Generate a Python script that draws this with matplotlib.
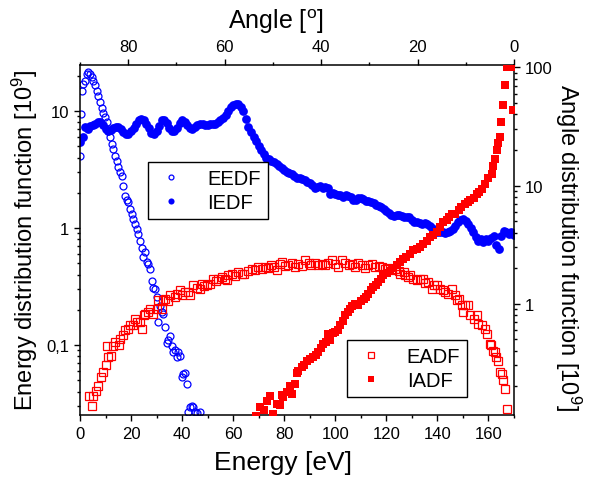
import numpy as np
import matplotlib.pyplot as plt
from matplotlib.ticker import FixedLocator, MultipleLocator, LogLocator, NullFormatter

plt.rcParams['font.family'] = ['Liberation Sans', 'DejaVu Sans']
plt.rcParams['mathtext.default'] = 'regular'

# energy distributions (left axis, bottom axis in eV)
eedf_energy = [0.0, 0.4, 0.65, 1.3, 2.0, 2.6, 3.3, 3.9, 4.6, 5.2, 5.9, 6.5, 7.2, 7.8, 8.5,
               9.1, 9.8, 10.5, 11.1, 11.7, 12.4, 13.0, 13.7, 14.4, 15.0, 15.7, 16.3, 17.0,
               17.6, 18.3, 18.9, 19.6, 20.2, 20.9, 21.5, 22.2, 22.9, 23.5, 24.2, 24.8, 25.5,
               26.1, 26.8, 27.4, 28.1, 28.7, 29.4, 30.0, 30.7, 31.3, 32.0, 32.6, 33.3, 33.9,
               34.6, 35.2, 35.9, 36.5, 37.2, 37.9, 38.5, 39.2, 39.8, 40.5, 41.1, 41.8, 42.4,
               43.1, 43.7, 44.4, 45.0, 45.7, 47.0]
eedf = [4.15, 9.4, 14.9, 17.0, 18.2, 20.7, 21.5, 20.7, 19.5, 18.2, 16.5, 14.9, 13.5, 11.9, 10.7,
        9.7, 8.8, 8.0, 6.8, 5.95, 5.2, 4.7, 4.15, 3.76, 3.3, 2.99, 2.8, 2.3,
        1.89, 1.75, 1.66, 1.45, 1.32, 1.19, 1.08, 0.98, 0.89, 0.78, 0.68, 0.56, 0.62,
        0.51, 0.49, 0.45, 0.355, 0.31, 0.30, 0.256, 0.156, 0.217, 0.19, 0.184, 0.142, 0.105,
        0.11, 0.12, 0.099, 0.087, 0.09, 0.0785, 0.087, 0.081, 0.053, 0.057, 0.058, 0.046, 0.0266,
        0.0297, 0.030, 0.0294, 0.027, 0.026, 0.0266]

iedf_energy = list(range(0, 171))
iedf = [5.4, 6.0, 7.3, 7.0, 7.5, 7.6, 7.8, 8.0, 8.1, 7.6,
        7.0, 6.8, 6.9, 7.1, 7.3, 7.3, 7.0, 6.6, 6.4, 6.4,
        6.7, 7.2, 7.8, 8.3, 8.5, 8.3, 7.8, 7.1, 6.5, 6.4,
        6.8, 7.5, 8.3, 8.4, 7.9, 7.2, 6.7, 6.7, 7.2, 7.9,
        8.3, 8.1, 7.6, 7.1, 7.0, 7.3, 7.6, 7.7, 7.7, 7.6,
        7.6, 7.7, 7.7, 7.8, 8.0, 8.3, 8.7, 9.3, 10.0, 10.8,
        11.3, 11.5, 11.4, 10.9, 10.0, 8.6, 7.3, 6.6, 6.0, 5.5,
        5.0, 4.6, 4.25, 4.0, 3.85, 3.75, 3.65, 3.55, 3.4, 3.25,
        3.1, 3.0, 2.95, 2.9, 2.8, 2.7, 2.65, 2.6, 2.55, 2.45,
        2.4, 2.35, 2.2, 2.25, 2.3, 2.2, 2.25, 2.2, 1.95, 2.0,
        1.95, 1.9, 1.9, 1.85, 1.9, 1.88, 1.85, 1.72, 1.75, 1.8,
        1.82, 1.78, 1.7, 1.7, 1.66, 1.62, 1.58, 1.55, 1.5, 1.45,
        1.41, 1.35, 1.28, 1.27, 1.3, 1.28, 1.27, 1.25, 1.24, 1.23,
        1.18, 1.12, 1.12, 1.1, 1.08, 1.1, 1.08, 1.05, 1.0, 0.97,
        0.93, 0.92, 0.92, 0.9, 0.92, 0.95, 0.98, 1.05, 1.12, 1.18,
        1.2, 1.15, 1.08, 1.0, 0.93, 0.83, 0.78, 0.8, 0.76, 0.8,
        0.78, 0.82, 0.86, 0.72, 0.66, 0.85, 0.94, 0.92, 0.88, 0.92,
        0.87]

# angle distributions (right axis, top axis in degrees)
eadf_angle = [88.1, 87.6, 87.2, 86.7, 86.2, 85.7, 85.2, 84.7, 84.5, 84.1, 83.6, 83.2, 82.8, 82.0,
              81.7, 81.0, 80.7, 80.0, 79.7, 79.0, 78.6, 78.1, 77.6, 77.2, 76.8, 76.5, 75.8, 75.4,
              74.8, 74.1, 73.8, 73.0, 72.7, 72.4, 71.8, 71.3, 70.3, 69.8, 69.3, 68.9, 68.2, 67.5,
              67.1, 66.5, 65.8, 65.2, 64.8, 64.2, 63.7, 63.1, 62.4, 61.8, 61.3, 60.6, 59.9, 59.6,
              59.3, 58.5, 57.8, 57.2, 56.5, 55.9, 55.2, 54.4, 53.7, 53.0, 52.3, 51.7, 51.0, 50.3,
              49.7, 49.2, 48.5, 48.2, 47.5, 46.8, 46.1, 45.4, 44.7, 44.0, 43.3, 42.6, 42.0, 41.3,
              40.6, 39.9, 39.2, 38.5, 37.8, 37.1, 36.4, 35.7, 35.0, 34.3, 33.6, 33.0, 32.3, 31.6,
              30.9, 30.2, 29.5, 28.8, 28.1, 27.4, 26.8, 26.1, 25.3, 24.6, 23.9, 23.6, 22.9, 22.6,
              21.9, 21.6, 20.9, 20.2, 19.5, 18.8, 18.5, 17.8, 17.1, 16.6, 16.0, 15.3, 14.7, 14.3,
              13.6, 12.9, 12.2, 11.9, 11.4, 10.8, 10.6, 10.2, 9.5, 9.2, 8.4, 7.7, 7.4, 6.7, 6.0,
              5.7, 5.0, 4.8, 4.3, 3.9, 3.7, 3.3, 2.9, 2.5, 2.2, 1.9, 1.5]
eadf = [0.164, 0.135, 0.164, 0.184, 0.203, 0.239, 0.264, 0.30, 0.44, 0.353, 0.36, 0.44, 0.473, 0.443,
        0.505, 0.54, 0.594, 0.614, 0.655, 0.655, 0.746, 0.70, 0.70, 0.614, 0.796, 0.823, 0.85, 0.907,
        0.823, 0.907, 1.07, 0.907, 1.07, 1.10, 1.05, 1.18, 1.14, 1.22, 1.30, 1.18, 1.25, 1.26,
        1.18, 1.43, 1.35, 1.34, 1.48, 1.40, 1.43, 1.48, 1.63, 1.55, 1.63, 1.68, 1.63, 1.58,
        1.74, 1.80, 1.72, 1.86, 1.78, 1.80, 1.90, 1.98, 1.92, 2.05, 1.96, 2.05, 2.0, 2.11,
        2.05, 1.94, 2.15, 2.26, 2.08, 2.11, 2.2, 2.05, 2.15, 2.1, 2.33, 2.2, 2.11, 2.2,
        2.11, 2.15, 2.11, 2.2, 2.33, 2.15, 2.05, 2.33, 2.2, 2.11, 2.15, 2.05, 2.2, 2.11,
        2.0, 2.11, 2.18, 2.05, 2.1, 2.05, 1.98, 2.0, 1.92, 1.95, 1.90, 1.80, 1.85, 1.74,
        1.70, 1.74, 1.63, 1.58, 1.62, 1.63, 1.49, 1.53, 1.34, 1.45, 1.43, 1.34, 1.30, 1.26,
        1.20, 1.34, 1.18, 1.07, 1.10, 0.98, 0.85, 0.97, 0.97, 0.80, 0.746, 0.80, 0.68, 0.655, 0.614,
        0.557, 0.458, 0.45, 0.40, 0.39, 0.353, 0.33, 0.264, 0.254, 0.224, 0.19, 0.129]

iadf_angle = [53.4, 52.7, 51.9, 51.2, 50.6, 49.9, 49.2, 48.5, 48.2, 47.8, 47.1, 46.5, 46.1, 45.4,
              45.1, 44.7, 44.0, 43.5, 43.0, 42.3, 41.6, 41.1, 40.6, 40.1, 39.6, 38.9, 38.5, 38.2,
              37.6, 37.1, 36.6, 36.1, 35.5, 35.0, 34.5, 34.0, 33.5, 33.0, 32.4, 31.8, 31.2, 30.7,
              30.2, 29.7, 29.2, 28.7, 28.2, 27.6, 27.1, 26.4, 25.7, 25.0, 24.3, 23.6, 23.0, 22.3,
              21.6, 20.9, 20.2, 19.5, 18.8, 18.1, 17.4, 16.7, 16.0, 15.3, 14.7, 14.0, 13.4, 12.9,
              12.2, 11.5, 10.9, 10.2, 9.6, 9.1, 8.4, 7.7, 7.2, 6.7, 6.0, 5.3, 4.6, 4.3, 3.9, 3.6,
              3.3, 2.9, 2.6, 2.2, 1.9, 1.5, 0.9, 0.5, 0.15]
iadf = [0.113, 0.133, 0.125, 0.15, 0.165, 0.117, 0.142, 0.14, 0.17, 0.162, 0.179, 0.20, 0.173, 0.21,
        0.26, 0.272, 0.29, 0.30, 0.33, 0.34, 0.353, 0.37, 0.39, 0.42, 0.458, 0.47, 0.557, 0.489,
        0.56, 0.575, 0.6, 0.655, 0.72, 0.796, 0.85, 0.907, 0.95, 1.0, 0.97, 1.05, 1.1, 1.15,
        1.22, 1.3, 1.38, 1.45, 1.53, 1.62, 1.74, 1.82, 1.91, 2.0, 2.11, 2.25, 2.41, 2.5,
        2.65, 2.85, 2.92, 3.05, 3.22, 3.4, 3.7, 3.8, 4.05, 4.5, 4.9, 5.1, 5.4, 5.8,
        5.7, 6.2, 6.6, 7.0, 7.2, 7.5, 7.9, 8.5, 8.9, 9.4, 10.4, 11.5, 12.6, 14.8, 16.8, 19.9,
        23.0, 26.0, 34.7, 48.0, 70.6, 101.0, 103.0, 101.0, 43.5]

blue = '#0000ff'
red = '#ff0000'

fig = plt.figure(figsize=(5.89, 4.81), dpi=100)
rect = [0.1358, 0.1358, 0.7369, 0.727]
ax = fig.add_axes(rect)
ax2 = fig.add_axes(rect, frameon=False)

# energy axes
ax.plot(eedf_energy, eedf, 'o', ms=5.0, mfc='none', mec=blue, mew=0.9, label='EEDF', linestyle='none')
ax.plot(iedf_energy, iedf, 'o', ms=6.3, color=blue, mew=0, label='IEDF', linestyle='none')
ax.set_yscale('log')
ax.set_xlim(0, 170)
ax.set_ylim(0.0254, 24.7)
ax.xaxis.set_major_locator(MultipleLocator(20))
ax.xaxis.set_minor_locator(MultipleLocator(10))
ax.yaxis.set_major_locator(FixedLocator([0.1, 1, 10]))
ax.set_yticklabels(['0,1', '1', '10'])
ax.yaxis.set_minor_locator(LogLocator(base=10, subs=np.arange(2, 10)))
ax.yaxis.set_minor_formatter(NullFormatter())
ax.tick_params(which='both', direction='out', top=False, right=False, labelsize=12, width=1)
ax.tick_params(which='major', length=4.3)
ax.tick_params(which='minor', length=2.5)
ax.set_xlabel('Energy [eV]', fontsize=19, ha='center', va='center')
ax.xaxis.set_label_coords(0.468, -0.135)
ax.set_ylabel('Energy distribution function [10$^9$]', fontsize=17, ha='center', va='center')
ax.yaxis.set_label_coords(-0.127, 0.502)
for s in ax.spines.values():
    s.set_linewidth(1.1)

# angle axes
ax2.plot(eadf_angle, eadf, 's', ms=5.2, mfc='none', mec=red, mew=0.9, label='EADF', linestyle='none')
ax2.plot(iadf_angle, iadf, 's', ms=5.4, color=red, mew=0, label='IADF', linestyle='none')
ax2.set_yscale('log')
ax2.set_xlim(90, 0)
ax2.set_ylim(0.115, 105)
ax2.xaxis.set_ticks_position('top')
ax2.xaxis.set_label_position('top')
ax2.yaxis.set_ticks_position('right')
ax2.yaxis.set_label_position('right')
ax2.xaxis.set_major_locator(FixedLocator([80, 60, 40, 20, 0]))
ax2.xaxis.set_minor_locator(FixedLocator([90, 70, 50, 30, 10]))
ax2.yaxis.set_major_locator(FixedLocator([1, 10, 100]))
ax2.set_yticklabels(['1', '10', '100'])
ax2.yaxis.set_minor_locator(LogLocator(base=10, subs=np.arange(2, 10)))
ax2.yaxis.set_minor_formatter(NullFormatter())
ax2.tick_params(which='both', direction='out', labelsize=12, width=1)
ax2.tick_params(which='major', length=4.3)
ax2.tick_params(which='minor', length=2.5)
ax2.set_xlabel('Angle [$^o$]', fontsize=18, ha='center', va='center')
ax2.xaxis.set_label_coords(0.452, 1.126)
ax2.set_ylabel('Angle distribution function [10$^9$]', fontsize=17, rotation=270,
               ha='center', va='center')
ax2.yaxis.set_label_coords(1.124, 0.48)

leg_kw = dict(fontsize=14.5, frameon=True, fancybox=False, markerscale=0.7,
              handlelength=1.6, handletextpad=1.0, borderpad=0.35, labelspacing=0.25,
              borderaxespad=0)
leg1 = ax.legend(loc='upper left', bbox_to_anchor=(0.156, 0.7235), **leg_kw)
leg2 = ax2.legend(loc='upper left', bbox_to_anchor=(0.616, 0.2136), **leg_kw)
for leg in (leg1, leg2):
    leg.get_frame().set_edgecolor('black')
    leg.get_frame().set_linewidth(1.0)
    leg.get_frame().set_alpha(1)

fig.savefig('out.png', dpi=100)
